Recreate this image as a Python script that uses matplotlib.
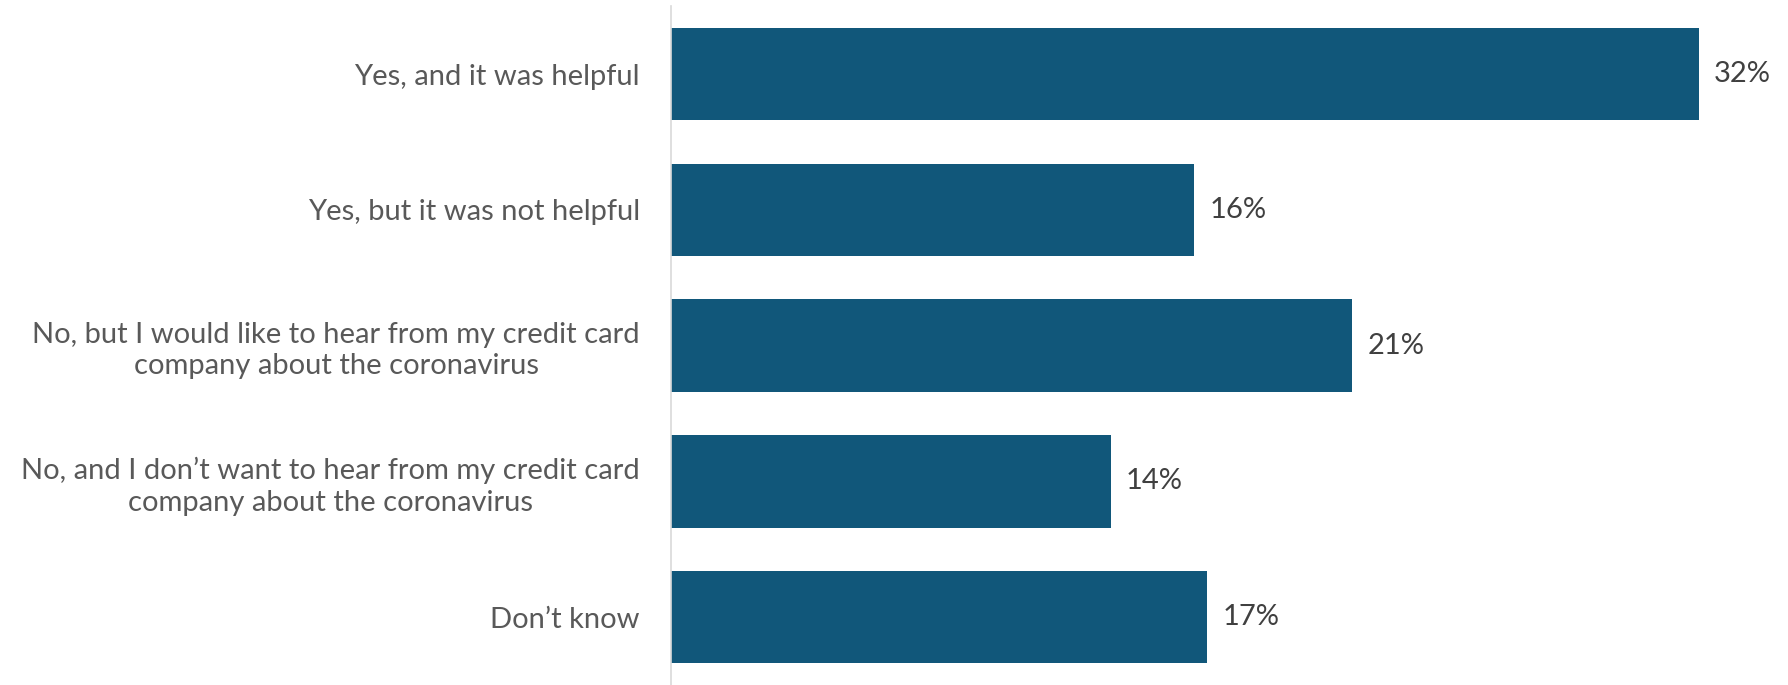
import matplotlib
matplotlib.use("Agg")
import matplotlib.pyplot as plt
import numpy as np

categories = [
    "Yes, and it was helpful",
    "Yes, but it was not helpful",
    "No, but I would like to hear from my credit card\ncompany about the coronavirus",
    "No, and I don\u2019t want to hear from my credit card\ncompany about the coronavirus",
    "Don\u2019t know",
]
values = [32.0, 16.3, 21.2, 13.7, 16.7]
value_labels = ["32%", "16%", "21%", "14%", "17%"]

bar_color = "#11577A"
plt.rcParams["font.family"] = ["Lato", "DejaVu Sans"]

fig = plt.figure(figsize=(17.88, 6.85), dpi=100)
ax = fig.add_axes([0.375, 0.0, 0.625, 0.991])

y = np.arange(len(categories))
ax.barh(y, values, height=0.68, color=bar_color)
ax.set_ylim(len(categories) - 0.5, -0.5)
ax.set_xlim(0, 34.77)

ax.set_yticks(y)
ax.set_yticklabels(categories, fontsize=21, color="#595959", multialignment="center",
                   linespacing=1.25)
ax.tick_params(axis="y", length=0, pad=22)
ax.set_xticks([])

for spine in ["top", "right", "bottom"]:
    ax.spines[spine].set_visible(False)
ax.spines["left"].set_color("#D9D9D9")
ax.spines["left"].set_linewidth(1.2)

for yi, v, lab in zip(y, values, value_labels):
    ax.annotate(lab, xy=(v, yi), xytext=(11, 0), textcoords="offset points",
                va="center", ha="left", fontsize=21, color="#404040")

fig.savefig("out.png", dpi=100)
